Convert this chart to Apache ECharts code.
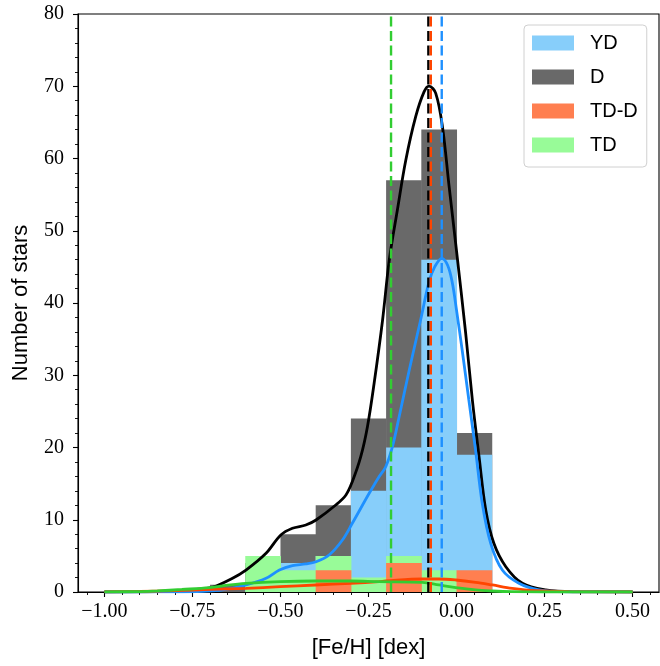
<!DOCTYPE html>
<html>
<head>
<meta charset="utf-8">
<script src="https://cdn.jsdelivr.net/npm/echarts@6/dist/echarts.min.js"></script>
<style>
  html, body { margin: 0; padding: 0; background: #fff; }
  #chart { width: 660px; height: 666px; }
</style>
</head>
<body>
<div id="chart"></div>
<script>
// Histogram bins ([Fe/H], dex) shared by all four populations
const binEdges = [-0.7, -0.6, -0.5, -0.4, -0.3, -0.2, -0.1, 0.0, 0.1];

// Star counts per bin
const countsYD  = [0, 1, 4, 5, 14, 20, 46, 19];
const countsD   = [1, 4, 8, 12, 24, 57, 64, 22];
const countsTDD = [0, 0, 0, 3, 0, 4, 0, 3];
const countsTD  = [0, 5, 3, 5, 2, 5, 3, 0];

// Kernel density curves, scaled to counts: [Fe/H], value
const kdeD = [[-1.0, 0], [-0.85, 0.05], [-0.78, 0.2], [-0.73, 0.4], [-0.693, 0.65], [-0.64, 1.8], [-0.598, 3.04],
  [-0.541, 5.36], [-0.499, 7.89], [-0.466, 8.82], [-0.428, 9.27], [-0.399, 9.97], [-0.343, 12.04],
  [-0.314, 13.43], [-0.296, 15.27], [-0.272, 18.73], [-0.253, 22.88], [-0.234, 28.89], [-0.21, 37.65],
  [-0.191, 45.95], [-0.168, 52.87], [-0.144, 59.79], [-0.116, 65.79], [-0.092, 69.25], [-0.078, 70.03],
  [-0.059, 69.02], [-0.04, 64.4], [-0.021, 56.1], [0.0, 47.2], [0.026, 35.81], [0.045, 26.57],
  [0.064, 18.73], [0.083, 11.35], [0.106, 6.74], [0.14, 3.5], [0.187, 1.2], [0.253, 0.28],
  [0.33, 0.03], [0.5, 0]];
const kdeYD = [[-1.0, 0], [-0.8, 0.03], [-0.72, 0.1], [-0.664, 0.28], [-0.598, 0.97], [-0.541, 1.9],
  [-0.503, 3.04], [-0.466, 3.64], [-0.428, 3.88], [-0.399, 4.19], [-0.362, 5.12], [-0.324, 7.2],
  [-0.296, 9.51], [-0.248, 13.66], [-0.22, 15.96], [-0.201, 17.34], [-0.182, 20.11], [-0.163, 24.26],
  [-0.133, 31.0], [-0.102, 37.65], [-0.078, 42.95], [-0.062, 45.0], [-0.042, 46.19], [-0.025, 45.2],
  [-0.012, 42.8], [0.0, 39.0], [0.016, 33.49], [0.035, 26.57], [0.054, 19.65], [0.073, 12.28], [0.097, 6.74],
  [0.13, 3.04], [0.177, 1.2], [0.234, 0.28], [0.31, 0.03], [0.5, 0]];
const kdeTDD = [[-1.0, 0.02], [-0.9, 0.08], [-0.8, 0.2], [-0.7, 0.36], [-0.598, 0.51], [-0.501, 0.73],
  [-0.401, 0.97], [-0.3, 1.2], [-0.22, 1.43], [-0.201, 1.52], [-0.097, 1.8], [-0.05, 1.8],
  [-0.002, 1.66], [0.054, 1.34], [0.102, 0.97], [0.158, 0.51], [0.225, 0.18], [0.319, 0.04], [0.5, 0]];
const kdeTD = [[-1.0, 0.01], [-0.9, 0.06], [-0.85, 0.15], [-0.78, 0.35], [-0.702, 0.6], [-0.65, 0.95],
  [-0.598, 1.2], [-0.501, 1.43], [-0.401, 1.52], [-0.3, 1.52], [-0.22, 1.43], [-0.097, 1.34],
  [-0.05, 0.97], [-0.002, 0.6], [0.054, 0.28], [0.101, 0.14], [0.157, 0.04], [0.25, 0.0], [0.5, 0]];

// Vertical reference lines, in drawing order
const refNames  = ['TD', 'D', 'TD-D', 'YD'];
const refValues = [-0.186, -0.080, -0.073, -0.042];

// Axis ticks
const xTicks = [-1.0, -0.75, -0.5, -0.25, 0.0, 0.25, 0.5];
const yTicks = [0, 10, 20, 30, 40, 50, 60, 70, 80];

const colors = {
  YD:  { bar: '#87CEFA', line: '#1E90FF' },
  D:   { bar: '#696969', line: '#000000' },
  'TD-D': { bar: '#FF7F50', line: '#FF4500' },
  TD:  { bar: '#98FB98', line: '#32CD32' }
};

const xMinorTicks = [];
for (let i = -21; i <= 11; i++) {
  const v = +(i * 0.05).toFixed(2);
  if (xTicks.indexOf(v) < 0) xMinorTicks.push(v);
}

function binData(counts) {
  return counts.map((c, i) => [binEdges[i], binEdges[i + 1], c]);
}

function histSeries(name, counts) {
  return {
    name: name,
    type: 'custom',
    xAxisIndex: 0,
    yAxisIndex: 0,
    itemStyle: { color: colors[name].bar },
    renderItem: function (params, api) {
      const c = api.value(2);
      if (!c) return null;
      const p0 = api.coord([api.value(0), c]);
      const p1 = api.coord([api.value(1), 0]);
      return {
        type: 'rect',
        shape: { x: p0[0], y: p0[1], width: p1[0] - p0[0] + 0.5, height: p1[1] - p0[1] },
        style: { fill: colors[name].bar }
      };
    },
    encode: { x: [0, 1], y: 2 },
    data: binData(counts),
    silent: true
  };
}

function kdeSeries(name, pts) {
  return {
    name: name + ' kde',
    type: 'line',
    xAxisIndex: 0,
    yAxisIndex: 0,
    data: pts,
    smooth: 0.35,
    showSymbol: false,
    lineStyle: { color: colors[name].line, width: 2.8 },
    silent: true
  };
}

function refSeries(name, x) {
  return {
    name: name + ' ref',
    type: 'line',
    xAxisIndex: 0,
    yAxisIndex: 0,
    data: [[x, 0], [x, 80]],
    showSymbol: false,
    lineStyle: { color: colors[name].line, width: 2.4, type: [10, 4.5] },
    silent: true
  };
}

const fmt = v => (v < 0 ? '\u2212' : '') + Math.abs(v).toFixed(2);

const chart = echarts.init(document.getElementById('chart'), null, { renderer: 'canvas' });
chart.setOption({
  animation: false,
  backgroundColor: '#ffffff',
  grid: { left: 78, top: 14, width: 581, height: 578, show: true, borderColor: '#000', borderWidth: 1.1, backgroundColor: 'transparent' },
  legend: {
    data: ['YD', 'D', 'TD-D', 'TD'],
    orient: 'vertical',
    left: 524,
    top: 25,
    icon: 'rect',
    itemWidth: 42,
    itemHeight: 15,
    itemGap: 14,
    padding: [8, 9, 12, 8],
    backgroundColor: '#fff',
    borderColor: '#d0d0d0',
    borderWidth: 1,
    borderRadius: 4,
    textStyle: { fontFamily: 'Liberation Sans', fontSize: 20, color: '#000', padding: [0, 0, 0, 11] },
    selectedMode: false
  },
  xAxis: [
    {
      type: 'value', min: -1.075, max: 0.575,
      name: '[Fe/H] [dex]', nameLocation: 'middle', nameGap: 45,
      nameTextStyle: { fontFamily: 'Liberation Sans', fontSize: 22, color: '#000' },
      axisLine: { show: true, onZero: false, lineStyle: { color: '#000', width: 1.1 } },
      axisTick: { show: true, length: 5, customValues: xTicks, lineStyle: { color: '#000', width: 1.1 } },
      axisLabel: { show: true, customValues: xTicks, formatter: fmt, margin: 10,
        fontFamily: 'Liberation Serif', fontSize: 20, color: '#000' },
      splitLine: { show: false }
    },
    {
      type: 'value', min: -1.075, max: 0.575, position: 'bottom',
      axisLine: { show: false, onZero: false },
      axisTick: { show: true, length: 3, customValues: xMinorTicks, lineStyle: { color: '#000', width: 0.9 } },
      axisLabel: { show: false },
      splitLine: { show: false }
    }
  ],
  yAxis: {
    type: 'value', min: 0, max: 80, interval: 10, position: 'left',
    name: 'Number of stars', nameLocation: 'middle', nameGap: 46,
    nameTextStyle: { fontFamily: 'Liberation Sans', fontSize: 22, color: '#000' },
    axisLine: { show: true, onZero: false, lineStyle: { color: '#000', width: 1.1 } },
    axisTick: { show: true, length: 5, lineStyle: { color: '#000', width: 1.1 } },
    minorTick: { show: true, splitNumber: 5, length: 3, lineStyle: { color: '#000', width: 0.9 } },
    axisLabel: { margin: 14, fontFamily: 'Liberation Serif', fontSize: 20, color: '#000',
      customValues: yTicks },
    splitLine: { show: false },
    minorSplitLine: { show: false }
  },
  series: [
    histSeries('D', countsD),
    histSeries('YD', countsYD),
    histSeries('TD', countsTD),
    histSeries('TD-D', countsTDD),
    kdeSeries('D', kdeD),
    kdeSeries('YD', kdeYD),
    kdeSeries('TD-D', kdeTDD),
    kdeSeries('TD', kdeTD),
    ...refNames.map((n, i) => refSeries(n, refValues[i]))
  ]
});
</script>
</body>
</html>
